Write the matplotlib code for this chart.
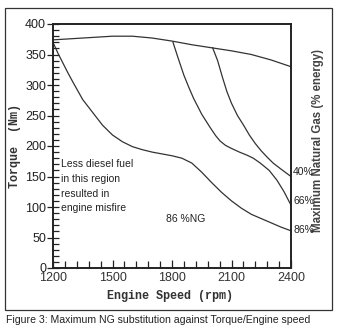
import matplotlib
matplotlib.use("Agg")
import matplotlib.pyplot as plt
from matplotlib.patches import Rectangle
from matplotlib.ticker import MultipleLocator

# Full-load torque curve
full_rpm = [1200, 1300, 1400, 1500, 1600, 1700, 1800, 1900, 2000, 2100, 2200, 2300, 2400]
full_tq = [374, 376, 378, 380, 380, 377, 372, 366, 361, 356, 350, 341, 330]

# 40% NG limit
ng40_rpm = [2005, 2030, 2055, 2077, 2100, 2130, 2161, 2190, 2220, 2250, 2279, 2310, 2346, 2375, 2400]
ng40_tq = [361, 340, 312, 289, 270, 250, 234, 218, 204, 192, 182, 172, 163, 156, 150]

# 66% NG limit
ng66_rpm = [1805, 1830, 1860, 1885, 1909, 1950, 1993, 2020, 2043, 2070, 2100, 2140, 2178, 2210, 2245, 2290, 2329, 2365, 2400]
ng66_tq = [370, 345, 316, 296, 278, 252, 230, 217, 208, 201, 196, 190, 185, 180, 172, 160, 144, 125, 103]

# 86% NG limit
ng86_rpm = [1200, 1225, 1250, 1275, 1300, 1350, 1400, 1450, 1500, 1550, 1600, 1650, 1700, 1750, 1800, 1850,
            1900, 1950, 2000, 2050, 2100, 2150, 2200, 2250, 2300, 2350, 2400]
ng86_tq = [370, 352, 336, 320, 305, 276, 255, 234, 218, 207, 199, 194, 190, 187, 184, 180,
           172, 157, 140, 124, 110, 98, 88, 81, 74, 67, 61]

end_labels = ["40%", "66%", "86%"]
xticks = [1200, 1500, 1800, 2100, 2400]
yticks = [0, 50, 100, 150, 200, 250, 300, 350, 400]

W, H = 342, 333
fig = plt.figure(figsize=(W / 100, H / 100), dpi=100)
fig.patch.set_facecolor("white")

# outer frame
fig.add_artist(Rectangle((5 / W, 1 - 310 / H), 327 / W, 302 / H, transform=fig.transFigure,
                         fill=False, edgecolor="#333333", linewidth=0.9))

ax = fig.add_axes([53 / W, 1 - 268 / H, 238 / W, 244 / H])
lc = "#333333"
lw = 0.9
ax.plot(full_rpm, full_tq, color=lc, lw=lw)
ax.plot(ng40_rpm, ng40_tq, color=lc, lw=lw)
ax.plot(ng66_rpm, ng66_tq, color=lc, lw=lw)
ax.plot(ng86_rpm, ng86_tq, color=lc, lw=lw)

ax.set_xlim(1200, 2400)
ax.set_ylim(0, 400)
ax.set_xticks(xticks)
ax.set_yticks(yticks)
ax.xaxis.set_minor_locator(MultipleLocator(60))
ax.yaxis.set_minor_locator(MultipleLocator(10))
for s in ax.spines.values():
    s.set_linewidth(1.4)
    s.set_color("#222222")
ax.tick_params(axis="y", which="major", direction="inout", length=8, width=0.9, pad=1,
               labelsize=9, labelcolor="#222222", color="#222222")
ax.tick_params(axis="y", which="minor", direction="in", length=4, width=0.9, color="#222222")
ax.tick_params(axis="x", which="major", direction="in", length=6, width=0.9, pad=3,
               labelsize=9, labelcolor="#333333", color="#222222")
ax.tick_params(axis="x", which="minor", direction="in", length=5, width=0.9, color="#222222")
for lab in ax.get_xticklabels() + ax.get_yticklabels():
    lab.set_family("Liberation Sans")

mono = "Liberation Mono"
fig.text(15 / W, 1 - 146 / H, "Torque  (Nm)", rotation=90, ha="center", va="center",
         family=mono, fontweight="bold", fontsize=8.5, color="#333333")
fig.text(170 / W, 1 - 296 / H, "Engine Speed (rpm)", ha="center", va="center",
         family=mono, fontweight="bold", fontsize=8.5, color="#333333")
fig.text(318 / W, 1 - 140 / H, "Maximum Natural Gas (% energy)", rotation=90, ha="center", va="center",
         family="Liberation Sans", fontweight="bold", fontsize=8.3, color="#444444")

sans = "Liberation Sans"
for i, line in enumerate(["Less diesel fuel", "in this region", "resulted in", "engine misfire"]):
    fig.text(61 / W, 1 - (164 + i * 14.8) / H, line, ha="left", va="center",
             family=sans, fontsize=7.5, color="#222222")
fig.text(166 / W, 1 - 219 / H, "86 %NG", ha="left", va="center", family=sans, fontsize=7.5, color="#222222")

for lab, y in zip(end_labels, [172, 201, 230]):
    fig.text(293 / W, 1 - y / H, lab, ha="left", va="center", family=sans, fontsize=7.5, color="#222222")

fig.text(6 / W, 1 - 320 / H, "Figure 3: Maximum NG substitution against Torque/Engine speed",
         ha="left", va="center", family=sans, fontsize=7.6, color="#222222")

fig.savefig("out.png", dpi=100, facecolor="white")
